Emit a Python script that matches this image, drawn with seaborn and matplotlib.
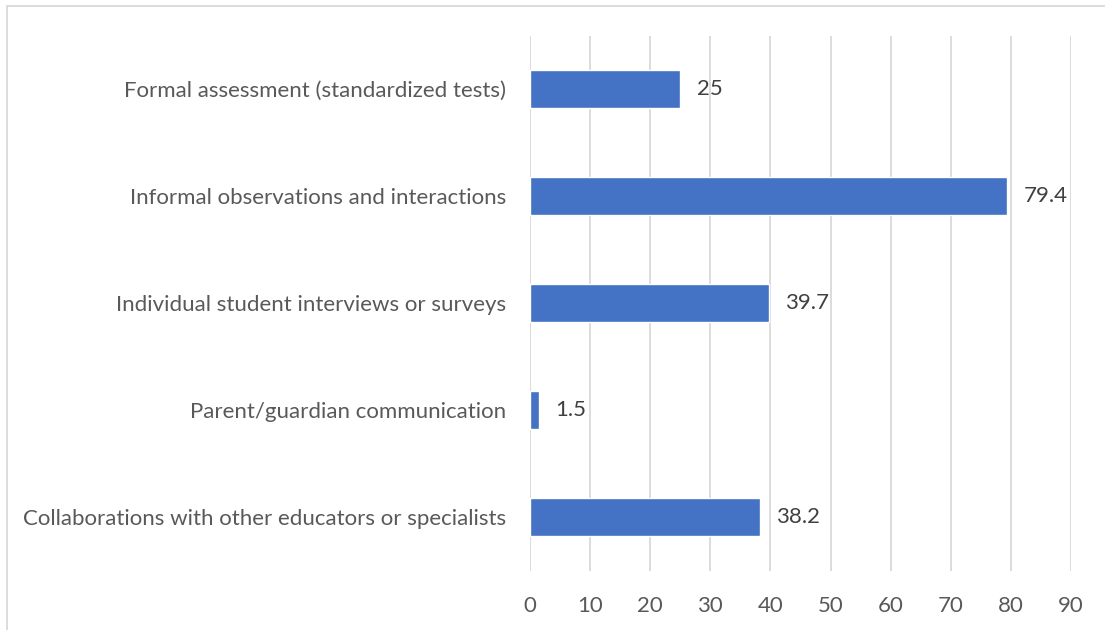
import matplotlib
matplotlib.use("Agg")
import matplotlib.pyplot as plt
import seaborn as sns
import pandas as pd
from matplotlib.patches import Rectangle

categories = [
    "Formal assessment (standardized tests)",
    "Informal observations and interactions",
    "Individual student interviews or surveys",
    "Parent/guardian communication",
    "Collaborations with other educators or specialists",
]
values = [25, 79.4, 39.7, 1.5, 38.2]
value_labels = ["25", "79.4", "39.7", "1.5", "38.2"]
x_ticks = [0, 10, 20, 30, 40, 50, 60, 70, 80, 90]

sns.set_theme(style="white")
plt.rcParams["font.family"] = ["Lato", "DejaVu Sans"]

df = pd.DataFrame({"category": categories, "value": values})

fig = plt.figure(figsize=(11.05, 6.3), dpi=100)
ax = fig.add_axes([530 / 1105, 1 - 570.5 / 630, 541 / 1105, 535 / 630])

sns.barplot(data=df, x="value", y="category", orient="h", color="#4472C4",
            saturation=1, width=0.355, ax=ax, zorder=3)

ax.set_xlim(0, 90)
ax.set_xticks(x_ticks)
ax.set_xticklabels([str(t) for t in x_ticks])
ax.set_xlabel("")
ax.set_ylabel("")
ax.grid(axis="x", color="#D9D9D9", linewidth=1.3, zorder=0)
ax.grid(axis="y", visible=False)
for s in ax.spines.values():
    s.set_visible(False)
ax.tick_params(axis="x", length=0, pad=18, labelsize=16, labelcolor="#595959")
ax.tick_params(axis="y", length=0, pad=17, labelsize=16, labelcolor="#595959")

for i, (v, lab) in enumerate(zip(values, value_labels)):
    ax.annotate(lab, xy=(v, i), xytext=(12, 0), textcoords="offset points",
                va="center", ha="left", fontsize=16, color="#404040")

# chart frame
fig.patches.append(Rectangle((7 / 1105, -0.1), 1.2, 1 - 6.5 / 630 + 0.1,
                             transform=fig.transFigure, fill=False,
                             edgecolor="#D9D9D9", linewidth=1.3))

fig.savefig("out.png", dpi=100, facecolor="white")
